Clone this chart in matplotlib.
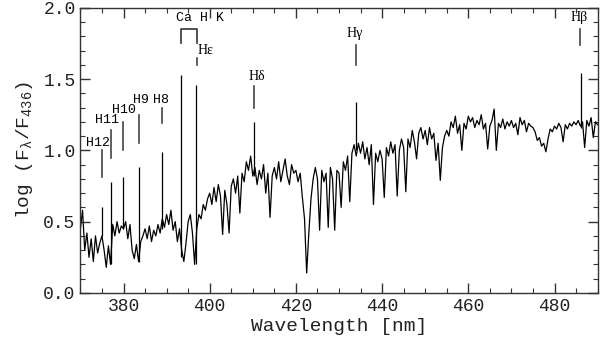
import numpy as np
import matplotlib
matplotlib.use("Agg")
import matplotlib.pyplot as plt

# continuum, every 0.5 nm (370 ... 490 nm)
c370 = [0.45, 0.58, 0.30, 0.42, 0.25, 0.38, 0.22, 0.40, 0.28, 0.35]
c375 = [0.40, 0.30, 0.18, 0.33, 0.20, 0.48, 0.40, 0.50, 0.42, 0.47]
c380 = [0.45, 0.50, 0.38, 0.48, 0.30, 0.24, 0.34, 0.22, 0.36, 0.40]
c385 = [0.45, 0.38, 0.47, 0.36, 0.44, 0.40, 0.48, 0.42, 0.52, 0.46]
c390 = [0.55, 0.48, 0.58, 0.44, 0.50, 0.36, 0.45, 0.30, 0.22, 0.35]
c395 = [0.50, 0.55, 0.42, 0.20, 0.45, 0.55, 0.52, 0.62, 0.58, 0.66]
c400 = [0.70, 0.62, 0.74, 0.64, 0.76, 0.68, 0.41, 0.72, 0.62, 0.42]
c405 = [0.75, 0.80, 0.70, 0.82, 0.56, 0.84, 0.78, 0.92, 0.86, 0.96]
c410 = [0.82, 0.88, 0.76, 0.86, 0.80, 0.90, 0.70, 0.84, 0.53, 0.82]
c415 = [0.88, 0.80, 0.92, 0.78, 0.86, 0.94, 0.82, 0.76, 0.90, 0.84]
c420 = [0.86, 0.78, 0.84, 0.67, 0.52, 0.14, 0.42, 0.66, 0.80, 0.88]
c425 = [0.80, 0.44, 0.86, 0.78, 0.84, 0.46, 0.88, 0.80, 0.44, 0.86]
c430 = [0.84, 0.60, 0.92, 0.86, 0.96, 0.64, 0.98, 1.04, 0.96, 1.05]
c435 = [0.98, 1.06, 0.94, 1.02, 0.90, 1.04, 0.62, 0.98, 0.92, 1.00]
c440 = [0.94, 0.67, 1.02, 0.96, 1.06, 0.98, 1.04, 0.68, 1.00, 1.08]
c445 = [1.02, 0.71, 1.08, 1.02, 1.14, 1.06, 0.94, 1.12, 1.16, 1.08]
c450 = [1.14, 1.04, 1.16, 1.08, 1.12, 0.93, 1.05, 0.79, 1.02, 1.10]
c455 = [1.14, 1.10, 1.20, 1.16, 1.24, 1.12, 1.18, 1.00, 1.19, 1.15]
c460 = [1.24, 1.20, 1.23, 1.16, 1.21, 1.18, 1.25, 1.15, 1.19, 1.01]
c465 = [1.17, 1.21, 1.29, 1.00, 1.19, 1.16, 1.22, 1.15, 1.20, 1.17]
c470 = [1.21, 1.16, 1.19, 1.11, 1.23, 1.18, 1.21, 1.13, 1.19, 1.17]
c475 = [1.16, 1.13, 1.07, 1.09, 1.03, 1.05, 0.99, 1.08, 1.15, 1.13]
c480 = [1.17, 1.15, 1.19, 1.16, 1.06, 1.18, 1.15, 1.19, 1.17, 1.20]
c485 = [1.18, 1.21, 1.17, 1.20, 1.02, 1.21, 1.17, 1.23, 1.09, 1.20]
c490 = [1.18]

flux = np.array(c370 + c375 + c380 + c385 + c390 + c395 + c400 + c405 + c410
                + c415 + c420 + c425 + c430 + c435 + c440 + c445 + c450 + c455
                + c460 + c465 + c470 + c475 + c480 + c485 + c490)
wave = np.arange(370, 490.25, 0.5)

# narrow line peaks
spike_wl = [375.01, 377.06, 379.79, 383.54, 388.90, 393.37, 396.90, 410.17, 434.05, 486.13]
spike_base = [0.40, 0.20, 0.45, 0.22, 0.45, 0.25, 0.20, 0.82, 1.00, 1.16]
spike_peak = [0.60, 0.78, 0.81, 0.88, 0.99, 1.53, 1.46, 1.20, 1.34, 1.54]

# line identifications: label, tick x, tick y0, tick y1, text x, text y
ids = [
    ("H12", 375.0, 0.81, 1.00, 374.1, 1.05),
    ("H11", 377.1, 0.95, 1.14, 376.1, 1.21),
    ("H10", 379.8, 1.00, 1.20, 380.1, 1.28),
    ("H9", 383.5, 1.05, 1.25, 384.0, 1.35),
    ("H8", 388.9, 1.19, 1.30, 388.8, 1.35),
]
greek = [
    ("Hε", 397.1, 1.60, 1.65, 399.1, 1.70),
    ("Hδ", 410.2, 1.30, 1.45, 410.9, 1.52),
    ("Hγ", 434.0, 1.60, 1.74, 433.7, 1.82),
    ("Hβ", 486.0, 1.74, 1.85, 485.7, 1.93),
]

plt.rcParams['font.family'] = ['Liberation Mono', 'DejaVu Sans Mono']
plt.rcParams['mathtext.fontset'] = 'custom'
plt.rcParams['mathtext.rm'] = 'Liberation Mono'
plt.rcParams['mathtext.it'] = 'Liberation Mono'

fig = plt.figure(figsize=(6.0, 3.41), dpi=100)
ax = fig.add_axes([0.134, 0.141, 0.862, 0.836])

ax.plot(wave, flux, color='black', lw=0.9)
ax.vlines(spike_wl, spike_base, spike_peak, color='black', lw=0.9)

for lab, tx, y0, y1, lx, ly in ids:
    ax.plot([tx, tx], [y0, y1], color='#444444', lw=1.2)
    ax.text(lx, ly, lab, ha='center', va='center', fontsize=9.5)

for lab, tx, y0, y1, lx, ly in greek:
    ax.plot([tx, tx], [y0, y1], color='#444444', lw=1.2)
    ax.text(lx, ly, lab, ha='center', va='center', fontsize=10,
            family=['Liberation Serif', 'DejaVu Serif'])

# Ca H K bracket
ax.plot([393.4, 393.4, 397.0, 397.0], [1.75, 1.85, 1.85, 1.75], color='#333333', lw=1.2)
ax.text(397.8, 1.93, "Ca H K", ha='center', va='center', fontsize=9.5)

ax.set_xlim(370, 490)
ax.set_ylim(0, 2)
ax.set_xticks([380, 400, 420, 440, 460, 480])
ax.set_xticks(np.arange(370, 491, 5), minor=True)
ax.set_yticks([0.0, 0.5, 1.0, 1.5, 2.0])
ax.set_yticks(np.arange(0, 2.01, 0.1), minor=True)
ax.set_yticklabels(['0.0', '0.5', '1.0', '1.5', '2.0'])
ax.tick_params(which='both', direction='in', top=True, right=True,
               labelsize=13, colors='#333333', labelcolor='#222222')
ax.tick_params(which='major', length=7, width=1)
ax.tick_params(which='minor', length=3.5, width=0.8)
for s in ax.spines.values():
    s.set_color('#333333')
    s.set_linewidth(1.0)

ax.set_xlabel('Wavelength [nm]', fontsize=14, color='#222222', labelpad=2)
ax.set_ylabel(r'log (F$_\mathregular{λ}$/F$_\mathregular{436}$)', fontsize=14,
              color='#222222', labelpad=6)

fig.savefig('out.png', dpi=100)
